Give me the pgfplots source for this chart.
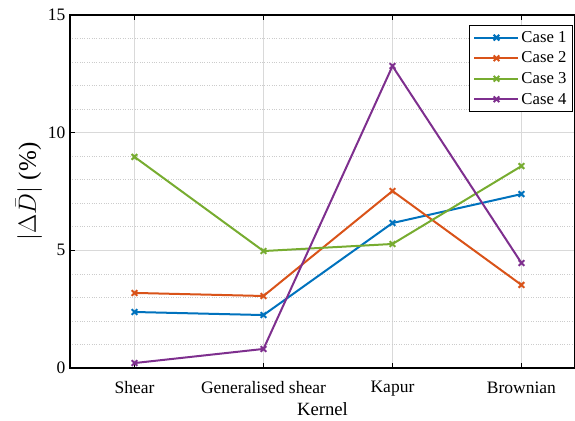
\documentclass[border=0pt]{standalone}
\usepackage{pgfplots}
\pgfplotsset{compat=1.18}
\usepackage{fontspec}
\setmainfont{Liberation Serif}
\definecolor{c1}{rgb}{0,0.447,0.741}
\definecolor{c2}{rgb}{0.85,0.325,0.098}
\definecolor{c3}{rgb}{0.466,0.674,0.188}
\definecolor{c4}{rgb}{0.494,0.184,0.556}
\begin{document}
\begin{tikzpicture}
\useasboundingbox (-70pt,-52pt) rectangle (505pt,368pt);
\begin{axis}[
  at={(0,0)}, anchor=south west,
  scale only axis, width=505pt, height=353pt,
  xmin=0.5, xmax=4.415, ymin=0, ymax=15,
  xtick={1,2,3,4},
  xticklabels={Shear,Generalised shear,Kapur,Brownian},
  ytick={0,5,10,15},
  minor ytick={1,2,3,4,6,7,8,9,11,12,13,14},
  tick align=inside,
  major tick length=5pt,
  minor tick length=0pt,
  xtick pos=both, ytick pos=left,
  grid=both,
  major grid style={draw=black!15, line width=0.8pt},
  minor grid style={draw=black!20, dotted, line width=0.7pt},
  axis line style={line width=1.1pt},
  tick style={line width=1.1pt, black},
  /pgf/number format/assume math mode=true,
  ticklabel style={font=\fontsize{17.5}{20}\selectfont},
  xticklabel style={yshift=-10pt},
  yticklabel style={xshift=-1pt},
  xlabel={Kernel},
  xlabel style={font=\fontsize{18.7}{21}\selectfont, yshift=1pt},
  ylabel={$|\Delta\bar{D}|$ (\%)},
  ylabel style={font=\fontsize{25}{28}\selectfont, yshift=-1pt},
  legend style={at={(0.996,0.972)}, anchor=north east, font=\fontsize{16.7}{19}\selectfont,
    draw=black, line width=1pt, inner sep=4pt, row sep=4pt},
  legend cell align=left,
  legend image code/.code={\draw[mark repeat=2,mark phase=2] plot coordinates {(0pt,0pt) (22pt,0pt) (44pt,0pt)};},
  every axis plot/.append style={line width=2pt, mark=x, mark size=4pt, mark options={line width=2pt}},
]
\addplot[c1] coordinates {(1,2.38) (2,2.25) (3,6.16) (4,7.39)};
\addlegendentry{Case 1}
\addplot[c2] coordinates {(1,3.19) (2,3.06) (3,7.52) (4,3.53)};
\addlegendentry{Case 2}
\addplot[c3] coordinates {(1,8.97) (2,4.97) (3,5.27) (4,8.58)};
\addlegendentry{Case 3}
\addplot[c4] coordinates {(1,0.21) (2,0.81) (3,12.83) (4,4.46)};
\addlegendentry{Case 4}
\end{axis}
\end{tikzpicture}
\end{document}
